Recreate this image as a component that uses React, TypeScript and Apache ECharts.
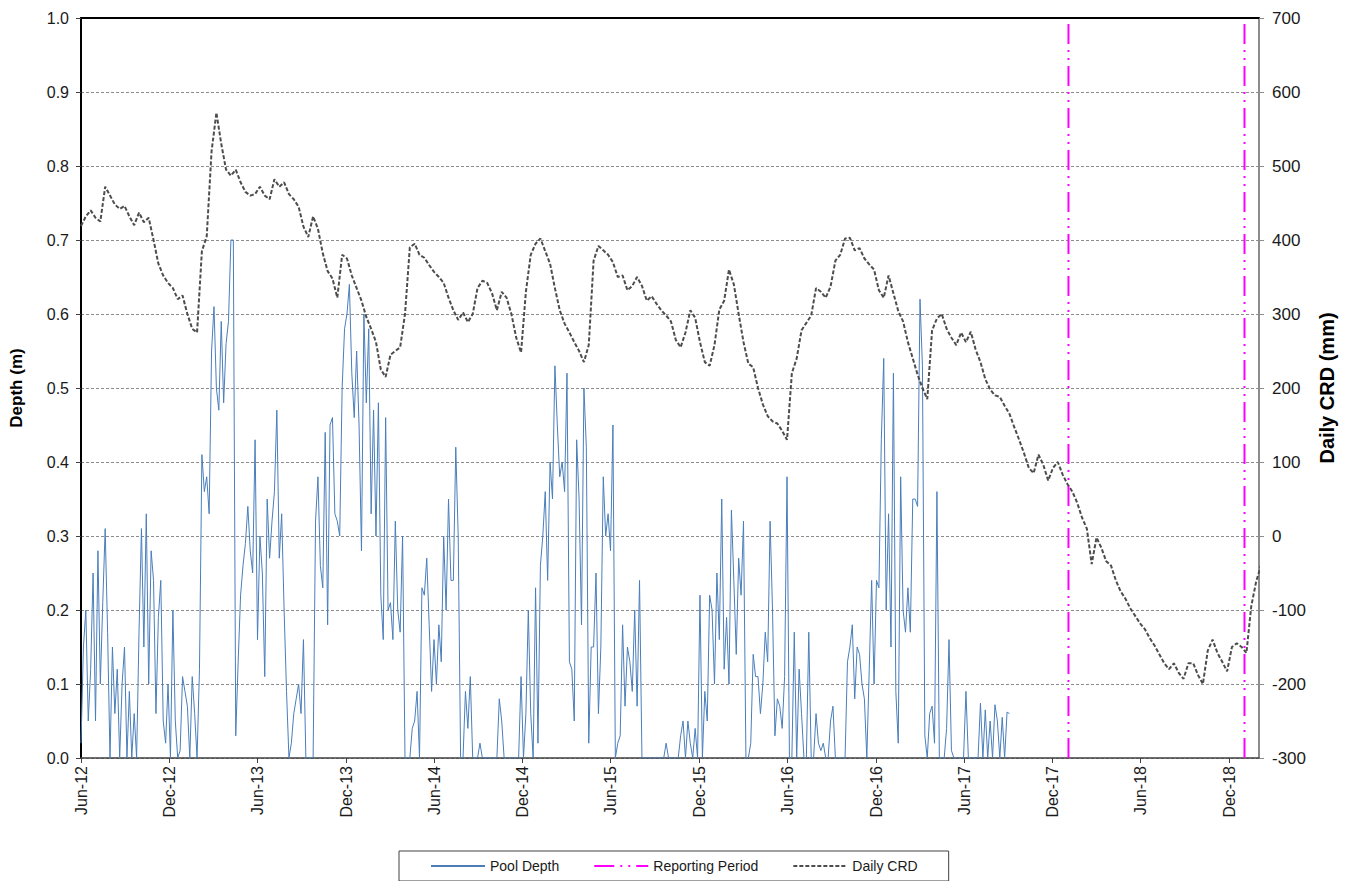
import React, { useEffect, useRef } from 'react';
import * as echarts from 'echarts';

const DAY = 86400000;

// Axis range and tick labels
const axisMinDate = '2012-06-01';
const axisMaxDate = '2019-02-01';
const tickDates = [
  '2012-06-01', '2012-12-01', '2013-06-01', '2013-12-01', '2014-06-01', '2014-12-01',
  '2015-06-01', '2015-12-01', '2016-06-01', '2016-12-01', '2017-06-01', '2017-12-01',
  '2018-06-01', '2018-12-01',
];
const tickLabels = [
  'Jun-12', 'Dec-12', 'Jun-13', 'Dec-13', 'Jun-14', 'Dec-14',
  'Jun-15', 'Dec-15', 'Jun-16', 'Dec-16', 'Jun-17', 'Dec-17',
  'Jun-18', 'Dec-18',
];

// Pool depth (m), sampled every 5 days from start date
const depthStart = '2012-06-01';
const depthStepDays = 5;
const depthValues = [
  0.02, 0.15, 0.20, 0.05, 0.12, 0.25, 0.05, 0.28, 0.10, 0.21,
  0.31, 0.17, 0.00, 0.15, 0.06, 0.12, 0.00, 0.10, 0.15, 0.00,
  0.09, 0.00, 0.06, 0.00, 0.17, 0.31, 0.15, 0.33, 0.10, 0.28,
  0.24, 0.06, 0.19, 0.24, 0.05, 0.02, 0.10, 0.00, 0.20, 0.05,
  0.00, 0.01, 0.11, 0.09, 0.07, 0.00, 0.11, 0.06, 0.00, 0.12,
  0.41, 0.36, 0.38, 0.33, 0.55, 0.61, 0.50, 0.47, 0.59, 0.48,
  0.56, 0.59, 0.70, 0.70,
  0.03, 0.13, 0.22, 0.26, 0.29, 0.34, 0.28, 0.25, 0.43, 0.16,
  0.30, 0.25, 0.11, 0.35, 0.27, 0.32, 0.36, 0.47, 0.27, 0.33,
  0.20, 0.09, 0.00, 0.02, 0.06, 0.08, 0.10, 0.06, 0.16, 0.00,
  0.00, 0.00, 0.00, 0.32, 0.38, 0.26, 0.23, 0.44, 0.18, 0.45,
  0.46, 0.33, 0.32, 0.30, 0.50, 0.58, 0.60, 0.64, 0.52, 0.46,
  0.55, 0.45, 0.28, 0.60, 0.48, 0.58, 0.33, 0.47, 0.30, 0.48,
  0.22, 0.16,
  0.46, 0.20, 0.21, 0.16, 0.32, 0.20, 0.17, 0.30, 0.00, 0.00,
  0.00, 0.04, 0.05, 0.09, 0.00, 0.23, 0.22, 0.27, 0.18, 0.09,
  0.16, 0.10, 0.18, 0.13, 0.30, 0.20, 0.35, 0.24, 0.24, 0.42,
  0.30, 0.00, 0.00, 0.09, 0.04, 0.11, 0.00, 0.00, 0.00, 0.02,
  0.00, 0.00, 0.00, 0.00, 0.00, 0.00, 0.00, 0.08, 0.05, 0.00,
  0.00, 0.00, 0.00, 0.00, 0.00, 0.00, 0.11, 0.00, 0.06, 0.20,
  0.06, 0.00,
  0.23, 0.02, 0.26, 0.30, 0.36, 0.24, 0.40, 0.35, 0.53, 0.45,
  0.38, 0.40, 0.36, 0.52, 0.13, 0.12, 0.05, 0.43, 0.35, 0.18,
  0.50, 0.42, 0.02, 0.15, 0.15, 0.25, 0.06, 0.15, 0.38, 0.30,
  0.33, 0.28, 0.45, 0.00, 0.02, 0.03, 0.18, 0.07, 0.15, 0.13,
  0.09, 0.20, 0.07, 0.24, 0.00, 0.00, 0.00, 0.00, 0.00, 0.00,
  0.00, 0.00, 0.00, 0.00, 0.02, 0.00, 0.00, 0.00, 0.00, 0.00,
  0.03, 0.05,
  0.00, 0.05, 0.02, 0.00, 0.04, 0.00, 0.22, 0.00, 0.09, 0.05,
  0.22, 0.20, 0.10, 0.25, 0.16, 0.35, 0.12, 0.19, 0.10, 0.335,
  0.24, 0.14, 0.27, 0.22, 0.32, 0.00, 0.00, 0.02, 0.14, 0.11,
  0.11, 0.06, 0.10, 0.17, 0.13, 0.32, 0.20, 0.03, 0.08, 0.07,
  0.04, 0.11, 0.38, 0.00, 0.00, 0.17, 0.00, 0.12, 0.06, 0.00,
  0.00, 0.17, 0.00, 0.00, 0.06, 0.02, 0.01, 0.02, 0.00, 0.00,
  0.05, 0.07,
  0.00, 0.00, 0.00, 0.00, 0.00, 0.13, 0.15, 0.18, 0.08, 0.15,
  0.14, 0.10, 0.08, 0.00, 0.12, 0.24, 0.10, 0.24, 0.23, 0.43,
  0.54, 0.20, 0.33, 0.15, 0.52, 0.09, 0.02, 0.38, 0.20, 0.17,
  0.23, 0.17, 0.35, 0.35, 0.34, 0.62, 0.53, 0.03, 0.00, 0.06,
  0.07, 0.02, 0.36, 0.00, 0.00, 0.00, 0.04, 0.16, 0.01, 0.00,
  0.00, 0.00, 0.00, 0.00, 0.09, 0.00, 0.00, 0.00, 0.00, 0.00,
  0.074, 0.00, 0.065, 0.00, 0.05, 0.00, 0.072, 0.05, 0.00, 0.055,
  0.00, 0.062, 0.06,
];

// Daily CRD (mm), sampled every 10 days from start date
const crdStart = '2012-06-01';
const crdStepDays = 10;
const crdValues = [
  419, 432, 440, 430, 425, 472, 460, 448, 442, 446,
  432, 420, 437, 424, 430, 400, 368, 352, 342, 335,
  320, 325, 300, 280, 275, 385, 405, 520, 572, 530,
  495, 487, 495, 478, 465, 460, 462, 472, 460, 455,
  482, 472, 478, 462, 455, 445, 418, 404, 432, 415,
  382, 358, 348, 322, 380, 375, 352, 335, 318, 296,
  280, 262, 225, 215, 245, 250, 255, 300, 390, 395,
  380, 376, 366, 357, 350, 342, 322, 305, 292, 302,
  289, 300, 335, 345, 342, 328, 305, 330, 322, 300,
  268, 248, 330, 380, 395, 402, 385, 368, 335, 305,
  287, 275, 262, 250, 235, 258, 372, 392, 386, 380,
  370, 350, 352, 332, 338, 350, 338, 318, 324, 314,
  305, 298, 290, 265, 255, 275, 305, 295, 262, 235,
  230, 258, 306, 318, 360, 340, 300, 262, 233, 228,
  200, 178, 162, 155, 152, 142, 130, 220, 240, 278,
  288, 298, 335, 330, 322, 337, 372, 380, 402, 403,
  386, 389, 375, 367, 360, 332, 322, 352, 328, 304,
  290, 262, 240, 218, 200, 185, 278, 294, 300, 280,
  268, 258, 275, 262, 276, 252, 235, 212, 198, 190,
  188, 176, 165, 147, 130, 112, 92, 85, 110, 96,
  75, 92, 100, 83, 70, 60, 45, 25, 10, -38,
  -2, -16, -34, -40, -60, -75, -85, -98, -108, -118,
  -126, -138, -148, -160, -172, -180, -172, -185, -193, -172,
  -172, -188, -200, -155, -140, -158, -170, -183, -150, -145,
  -150, -158, -95, -62, -40,
];

// Reporting period boundaries
const reportingDates = ['2018-01-03', '2019-01-02'];

const ts = (s: string) => {
  const [y, m, d] = s.split('-').map(Number);
  return Date.UTC(y, m - 1, d);
};

const FONT = "'Liberation Sans', Arial, sans-serif";

export default function App() {
  const ref = useRef<HTMLDivElement>(null);

  useEffect(() => {
    if (!ref.current) return;
    const chart = echarts.init(ref.current, null, { renderer: 'svg' });

    const tickTs = tickDates.map(ts);
    const depthT0 = ts(depthStart);
    const crdT0 = ts(crdStart);
    const depthData = depthValues.map((v, i) => [depthT0 + i * depthStepDays * DAY, v]);
    const crdData = crdValues.map((v, i) => [crdT0 + i * crdStepDays * DAY, v]);

    const magentaDash = [20, 6, 2, 6, 2, 6];

    const reportingSeries = reportingDates.map((d) => ({
      name: 'Reporting Period',
      type: 'line',
      xAxisIndex: 0,
      yAxisIndex: 0,
      symbol: 'none',
      data: [
        [ts(d), 0],
        [ts(d), 1],
      ],
      lineStyle: { color: '#ff00ff', width: 2, type: magentaDash },
      itemStyle: { color: '#ff00ff' },
      z: 3,
    }));

    const option: any = {
      animation: false,
      backgroundColor: '#ffffff',
      textStyle: { fontFamily: FONT },
      grid: { left: 81, right: 92, top: 18, bottom: 123, containLabel: false },
      legend: {
        data: ['Pool Depth', 'Reporting Period', 'Daily CRD'],
        left: 399,
        top: 851,
        orient: 'horizontal',
        itemWidth: 54,
        itemHeight: 14,
        itemGap: 34,
        padding: [8, 31, 8, 31],
        borderColor: '#404040',
        borderWidth: 1,
        itemStyle: { opacity: 0 },
        textStyle: { fontSize: 14, color: '#1a1a1a', fontFamily: FONT },
      },
      xAxis: [
        {
          type: 'value',
          min: ts(axisMinDate),
          max: ts(axisMaxDate),
          position: 'bottom',
          axisLine: { show: true, onZero: false, lineStyle: { color: '#404040', width: 1.5 } },
          axisTick: {
            show: true,
            length: 5,
            customValues: tickTs,
            lineStyle: { color: '#404040', width: 1 },
          },
          axisLabel: {
            show: true,
            customValues: tickTs,
            rotate: 90,
            margin: 8,
            fontSize: 16,
            color: '#1a1a1a',
            fontFamily: FONT,
            formatter: (val: number) => {
              const idx = tickTs.findIndex((t) => Math.abs(t - val) < DAY);
              return idx >= 0 ? tickLabels[idx] : '';
            },
          },
          splitLine: { show: false },
        },
        {
          type: 'value',
          min: ts(axisMinDate),
          max: ts(axisMaxDate),
          position: 'top',
          axisLine: { show: true, onZero: false, lineStyle: { color: '#000000', width: 2 } },
          axisTick: { show: false },
          axisLabel: { show: false },
          splitLine: { show: false },
        },
      ],
      yAxis: [
        {
          type: 'value',
          min: 0,
          max: 1,
          interval: 0.1,
          position: 'left',
          name: 'Depth (m)',
          nameLocation: 'middle',
          nameRotate: 90,
          nameGap: 56,
          nameTextStyle: { fontSize: 17, fontWeight: 'bold', color: '#000', fontFamily: FONT },
          axisLine: { show: true, onZero: false, lineStyle: { color: '#000000', width: 2 } },
          axisTick: { show: true, length: 5, lineStyle: { color: '#404040', width: 1 } },
          axisLabel: {
            fontSize: 16,
            color: '#1a1a1a',
            margin: 12,
            fontFamily: FONT,
            formatter: (v: number) => v.toFixed(1),
          },
          splitLine: { show: true, lineStyle: { color: '#8c8c8c', width: 1, type: [3, 2] } },
        },
        {
          type: 'value',
          min: -300,
          max: 700,
          interval: 100,
          position: 'right',
          name: 'Daily CRD (mm)',
          nameLocation: 'middle',
          nameRotate: 90,
          nameGap: 58,
          nameTextStyle: { fontSize: 20, fontWeight: 'bold', color: '#000', fontFamily: FONT },
          axisLine: { show: true, onZero: false, lineStyle: { color: '#8c8c8c', width: 2 } },
          axisTick: { show: true, length: 5, lineStyle: { color: '#8c8c8c', width: 1 } },
          axisLabel: { fontSize: 17, color: '#1a1a1a', margin: 13, fontFamily: FONT },
          splitLine: { show: false },
        },
      ],
      series: [
        {
          name: 'Pool Depth',
          type: 'line',
          xAxisIndex: 0,
          yAxisIndex: 0,
          symbol: 'none',
          data: depthData,
          lineStyle: { color: '#4a7ebb', width: 1 },
          itemStyle: { color: '#4a7ebb' },
          z: 2,
        },
        ...reportingSeries,
        {
          name: 'Daily CRD',
          type: 'line',
          xAxisIndex: 0,
          yAxisIndex: 1,
          symbol: 'none',
          data: crdData,
          lineStyle: { color: '#4d4d4d', width: 2, type: [4, 2] },
          itemStyle: { color: '#4d4d4d' },
          z: 4,
        },
      ],
    };

    chart.setOption(option);
    return () => {
      chart.dispose();
    };
  }, []);

  return (
    <div
      ref={ref}
      style={{ position: 'fixed', left: 0, top: 0, width: 1351, height: 881, background: '#fff' }}
    />
  );
}
